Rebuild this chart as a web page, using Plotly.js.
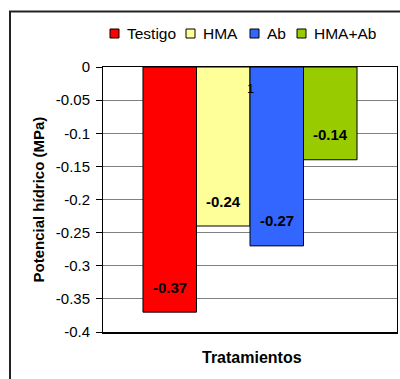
<!DOCTYPE html>
<html><head><meta charset="utf-8">
<script src="https://cdn.plot.ly/plotly-3.0.1.min.js"></script>
<style>html,body{margin:0;padding:0;background:#fff;overflow:hidden}#chart{width:400px;height:379px}</style>
</head><body><div id="chart"></div>
<script>
var categories = ['1'];
var seriesNames = ['Testigo', 'HMA', 'Ab', 'HMA+Ab'];
var seriesValues = [-0.37, -0.24, -0.27, -0.14];
var seriesColors = ['#FF0000', '#FFFF99', '#3366FF', '#99CC00'];
var tickVals = [0, -0.05, -0.1, -0.15, -0.2, -0.25, -0.3, -0.35, -0.4];
var tickText = ['0', '-0.05', '-0.1', '-0.15', '-0.2', '-0.25', '-0.3', '-0.35', '-0.4'];

var W = 400, H = 379;
var M = {l: 103, r: 3, t: 67, b: 47};
var PW = W - M.l - M.r, PH = H - M.t - M.b;
function px(x) { return (x - M.l) / PW; }
function py(y) { return 1 - (y - M.t) / PH; }

var bargap = 0.272;
var barW = (1 - bargap) / seriesNames.length;
var FONT = 'Liberation Sans, Arial, sans-serif';

var traces = seriesNames.map(function (n, i) {
  return {
    type: 'bar', name: n, x: [0], y: [seriesValues[i]],
    marker: {color: seriesColors[i], line: {color: '#000', width: 1}},
    hoverinfo: 'skip'
  };
});

var annotations = [];
seriesValues.forEach(function (v, i) {
  annotations.push({
    x: (i - (seriesValues.length - 1) / 2) * barW, y: v, xref: 'x', yref: 'y',
    xanchor: 'center', yanchor: 'middle',
    text: '<b>' + v.toFixed(2) + '</b>', showarrow: false, yshift: 25,
    font: {family: FONT, size: 15, color: '#000'}
  });
});
annotations.push({x: 0, y: -0.032, xref: 'x', yref: 'y', xanchor: 'center', yanchor: 'middle',
  text: categories[0], showarrow: false, font: {family: FONT, size: 13, color: '#000'}});
annotations.push({x: px(38), y: 0.5, xref: 'paper', yref: 'paper', xanchor: 'center', yanchor: 'middle',
  text: '<b>Potencial hídrico (MPa)</b>', textangle: -90, showarrow: false,
  font: {family: FONT, size: 15, color: '#000'}});
annotations.push({x: px(252), y: py(357), xref: 'paper', yref: 'paper', xanchor: 'center', yanchor: 'middle',
  text: '<b>Tratamientos</b>', showarrow: false, font: {family: FONT, size: 16, color: '#000'}});

var shapes = [];
shapes.push({type: 'rect', xref: 'paper', yref: 'paper', x0: px(10), x1: px(420), y0: py(400), y1: py(11.5),
  line: {color: '#222', width: 2}, fillcolor: 'rgba(0,0,0,0)'});

var legX = [110, 186, 250, 297];
seriesNames.forEach(function (n, i) {
  shapes.push({type: 'rect', xref: 'paper', yref: 'paper', x0: px(legX[i]), x1: px(legX[i] + 9),
    y0: py(38), y1: py(29), fillcolor: seriesColors[i], line: {color: '#000', width: 1}});
  annotations.push({x: px(legX[i] + 15), y: py(33.5), xref: 'paper', yref: 'paper',
    xanchor: 'left', yanchor: 'middle',
    text: n, showarrow: false, font: {family: FONT, size: 15.5, color: '#000'}});
});

var layout = {
  width: W, height: H, margin: M, paper_bgcolor: '#fff', plot_bgcolor: '#fff',
  showlegend: false, barmode: 'group', bargap: bargap, bargroupgap: 0,
  font: {family: FONT, size: 15, color: '#000'},
  xaxis: {type: 'linear', range: [-0.5, 0.5], showticklabels: false, ticks: '', showgrid: false,
    zeroline: false, showline: true, linecolor: '#000', linewidth: 1.5, mirror: true, fixedrange: true},
  yaxis: {range: [-0.4, 0], tickvals: tickVals, ticktext: tickText, ticks: 'outside', ticklen: 6,
    tickcolor: '#000', showgrid: true, gridcolor: '#808080', gridwidth: 1, zeroline: false,
    showline: true, linecolor: '#000', linewidth: 1, mirror: true, ticklabelstandoff: 3,
    tickfont: {family: FONT, size: 15, color: '#000'}, fixedrange: true},
  annotations: annotations, shapes: shapes
};
Plotly.newPlot('chart', traces, layout, {staticPlot: true, displayModeBar: false});
</script></body></html>
